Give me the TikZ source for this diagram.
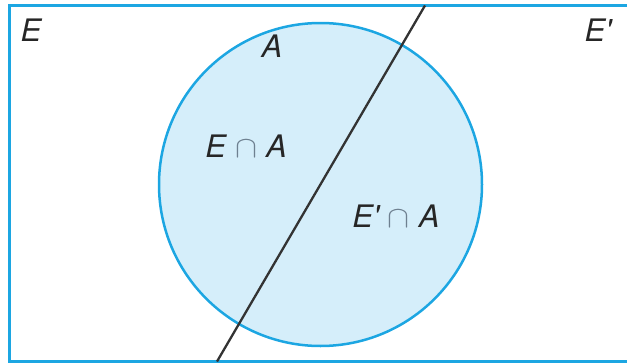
\documentclass[tikz,border=0pt]{standalone}
\usepackage{fontspec}
\setsansfont{TeX Gyre Heros}
\usepackage{textcomp}
\usepackage{graphicx}

\definecolor{setblue}{HTML}{1CA6E2}
\definecolor{setfill}{HTML}{D5EEFA}
\definecolor{capgray}{HTML}{6E8090}

\tikzset{
    setlabel/.style={font=\fontsize{31}{36}\selectfont\sffamily\itshape, text=black!85, inner sep=0pt},
}
\newcommand{\meet}{\hspace{9pt}{\color{capgray}\resizebox{22pt}{17pt}{$\cap$}}\hspace{9pt}}

\begin{document}
\begin{tikzpicture}[x=1pt, y=-1pt]
    \useasboundingbox (0, 0) rectangle (627, 364);
    \clip (0, 0) rectangle (627, 364);

    % Sample space
    \draw [setblue, line width=3pt] (9, 5.5) rectangle (660, 361.5);

    % Event A
    \fill [setfill] (320.5, 184.5) circle (161.5);
    \draw [setblue, line width=2.5pt] (320.5, 184.5) circle (161.5);

    % Partition line between E and E'
    \coordinate (cut top) at (425, 5.5);
    \coordinate (cut bottom) at (217, 361.5);
    \draw [black!80, line width=2.3pt] (cut top) -- (cut bottom);

    % Labels
    \node [setlabel] (lblE) at (31, 30) {E};
    \node [setlabel] (lblEp) at (598, 30) {E\textquotesingle};
    \node [setlabel] (lblA) at (272, 46) {A};
    \node [setlabel] (lblEA) at (246, 146) {E\meet A};
    \node [setlabel] (lblEpA) at (396, 216) {E\textquotesingle\meet A};
\end{tikzpicture}
\end{document}
